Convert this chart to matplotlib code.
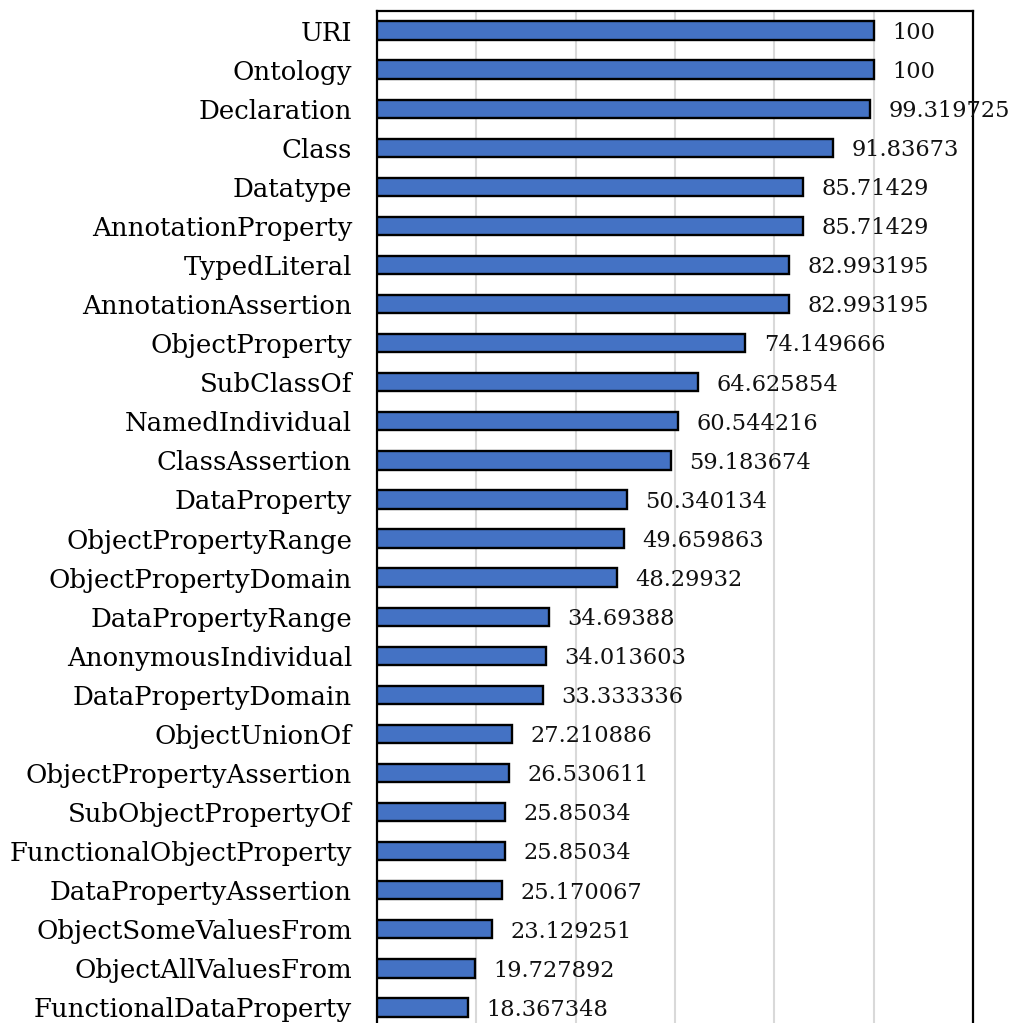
import numpy as np
import matplotlib.pyplot as plt

categories = ['URI', 'Ontology', 'Declaration', 'Class', 'Datatype',
              'AnnotationProperty', 'TypedLiteral', 'AnnotationAssertion',
              'ObjectProperty', 'SubClassOf', 'NamedIndividual', 'ClassAssertion',
              'DataProperty', 'ObjectPropertyRange', 'ObjectPropertyDomain',
              'DataPropertyRange', 'AnonymousIndividual', 'DataPropertyDomain',
              'ObjectUnionOf', 'ObjectPropertyAssertion', 'SubObjectPropertyOf',
              'FunctionalObjectProperty', 'DataPropertyAssertion',
              'ObjectSomeValuesFrom', 'ObjectAllValuesFrom', 'FunctionalDataProperty']
values = [100, 100, 99.319725, 91.83673, 85.71429, 85.71429, 82.993195, 82.993195,
          74.149666, 64.625854, 60.544216, 59.183674, 50.340134, 49.659863,
          48.29932, 34.69388, 34.013603, 33.333336, 27.210886, 26.530611,
          25.85034, 25.85034, 25.170067, 23.129251, 19.727892, 18.367348]
value_labels = ['100', '100', '99.319725', '91.83673', '85.71429', '85.71429',
                '82.993195', '82.993195', '74.149666', '64.625854', '60.544216',
                '59.183674', '50.340134', '49.659863', '48.29932', '34.69388',
                '34.013603', '33.333336', '27.210886', '26.530611', '25.85034',
                '25.85034', '25.170067', '23.129251', '19.727892', '18.367348']

plt.rcParams['font.family'] = ['DejaVu Serif']

fig = plt.figure(figsize=(10.15, 10.23), dpi=100)
ax = fig.add_axes([377/1015, 1 - 1027/1023, (973-377)/1015, 1016/1023])

y = np.arange(len(categories))
ax.barh(y, values, height=0.47, color='#4472C4', edgecolor='black', linewidth=1.7, zorder=3)

for yi, v, lab in zip(y, values, value_labels):
    ax.text(v + 3.7, yi + 0.06, lab, va='center', ha='left', fontsize=16.2, color='#111111')

ax.set_xlim(0, 120)
ax.set_ylim(len(categories) - 0.5, -0.5)
ax.set_yticks(y)
ax.set_yticklabels(categories, fontsize=18.7)
ax.set_xticks([20, 40, 60, 80, 100])
ax.tick_params(axis='y', length=0, pad=18)
ax.tick_params(axis='x', length=0, labelbottom=False)
ax.grid(axis='x', color='#D9D9D9', linewidth=1.5, zorder=0)
for s in ax.spines.values():
    s.set_linewidth(1.6)
    s.set_color('black')

fig.savefig('out.png', dpi=100)
